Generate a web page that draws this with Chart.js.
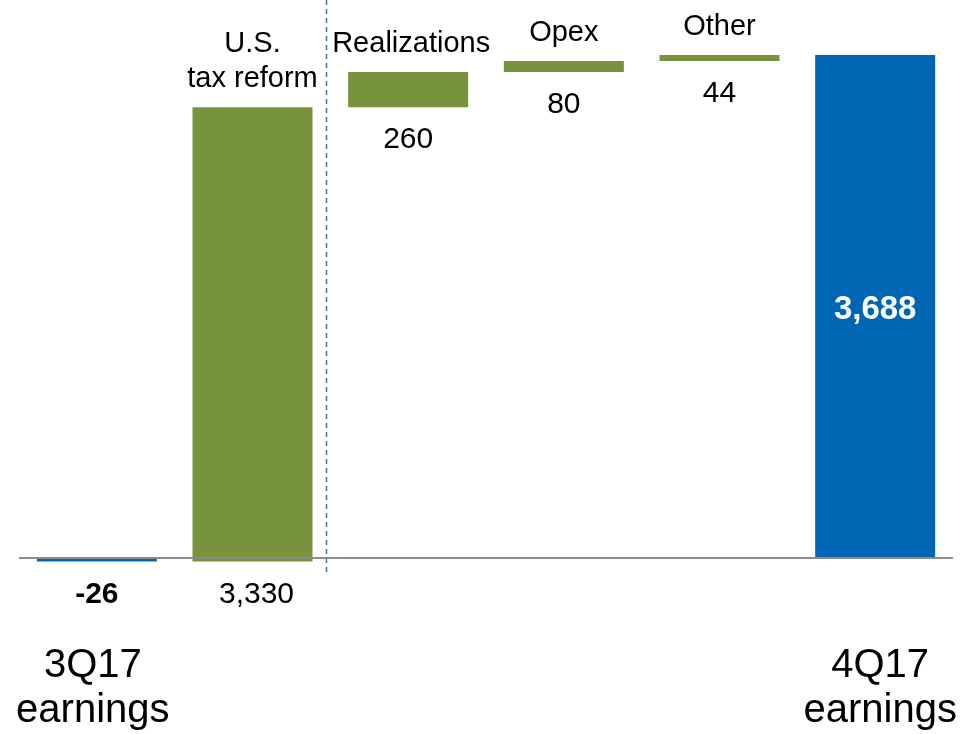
<!DOCTYPE html>
<html>
<head>
<meta charset="utf-8">
<title>Earnings walk 3Q17 to 4Q17</title>
<script src="https://cdn.jsdelivr.net/npm/chart.js@4/dist/chart.umd.min.js"></script>
<style>
  html, body { margin: 0; padding: 0; background: #fff; }
  #walk { display: block; }
</style>
</head>
<body>
<canvas id="walk" width="965" height="734"></canvas>
<script>
// Earnings walk data (millions)
const categories = ['3Q17 earnings', 'U.S. tax reform', 'Realizations', 'Opex', 'Other', '4Q17 earnings'];
const startValue = -26;
const changes = [3330, 260, 80, 44];
const endValue = 3688;

// Text shown above the step bars and under the end bars
const stepLabels = [null, ['U.S.', 'tax reform'], ['Realizations'], ['Opex'], ['Other'], null];
const endLabels = [['3Q17', 'earnings'], null, null, null, null, ['4Q17', 'earnings']];

const GREEN = '#77933C';
const BLUE = '#0066B3';
const FONT = '"Liberation Sans", Arial, sans-serif';

// Build floating [from, to] ranges for the waterfall
const ranges = [[0, startValue]];
const shown = [startValue];
let running = startValue;
changes.forEach(d => {
    ranges.push([running, running + d]);
    shown.push(d);
    running += d;
});
ranges.push([0, endValue]);
shown.push(endValue);

const colors = categories.map((c, i) => (i === 0 || i === categories.length - 1) ? BLUE : GREEN);

// Zero line, divider and all the text
const walkDecor = {
    id: 'walkDecor',
    afterDatasetsDraw(chart) {
        const { ctx, chartArea, scales: { x, y } } = chart;
        const zero = y.getPixelForValue(0);

        ctx.save();
        // divider between the opening items and the rest
        const divX = Math.round(x.getPixelForValue(1.47)) + 0.5;
        ctx.strokeStyle = '#2E75B6';
        ctx.lineWidth = 1.5;
        ctx.setLineDash([5, 4]);
        ctx.beginPath();
        ctx.moveTo(divX, 0);
        ctx.lineTo(divX, zero + 18);
        ctx.stroke();
        ctx.setLineDash([]);

        // zero line
        ctx.strokeStyle = '#8C8C8C';
        ctx.lineWidth = 2;
        ctx.beginPath();
        ctx.moveTo(chartArea.left, zero);
        ctx.lineTo(chartArea.right, zero);
        ctx.stroke();

        ctx.textAlign = 'center';
        ctx.textBaseline = 'alphabetic';
        const last = categories.length - 1;

        ranges.forEach((r, i) => {
            const cx = x.getPixelForValue(i);
            const top = y.getPixelForValue(Math.max(r[0], r[1]));
            const bottom = y.getPixelForValue(Math.min(r[0], r[1]));
            const text = shown[i].toLocaleString('en-US');

            if (i === last) {
                ctx.fillStyle = '#fff';
                ctx.font = 'bold 33px ' + FONT;
                ctx.fillText(text, cx, (top + bottom) / 2 + 12);
            } else {
                ctx.fillStyle = '#000';
                ctx.font = (i === 0 ? 'bold ' : '') + '30px ' + FONT;
                ctx.fillText(text, cx + (i === 1 ? 4 : 0), bottom + 41);
            }

            if (stepLabels[i]) {
                ctx.fillStyle = '#000';
                ctx.font = '29px ' + FONT;
                const lines = stepLabels[i];
                lines.forEach((line, j) => {
                    ctx.fillText(line, cx + (i === 2 ? 3 : 0), top - 20 - (lines.length - 1 - j) * 35);
                });
            }

            if (endLabels[i]) {
                ctx.fillStyle = '#000';
                ctx.font = '40px ' + FONT;
                endLabels[i].forEach((line, j) => {
                    ctx.fillText(line, cx + (i === last ? 5 : -4), zero + 119 + j * 45);
                });
            }
        });
        ctx.restore();
    }
};

new Chart(document.getElementById('walk'), {
    type: 'bar',
    data: {
        labels: categories,
        datasets: [{
            data: ranges,
            backgroundColor: colors,
            borderWidth: 0,
            barPercentage: 1,
            categoryPercentage: 0.771
        }]
    },
    options: {
        responsive: false,
        animation: false,
        layout: { padding: { left: 19, right: 12, top: 0, bottom: 0 } },
        plugins: {
            legend: { display: false },
            tooltip: { enabled: false }
        },
        scales: {
            x: { display: false, offset: true },
            y: { display: false, min: -1290, max: 4091 }
        }
    },
    plugins: [walkDecor]
});
</script>
</body>
</html>
